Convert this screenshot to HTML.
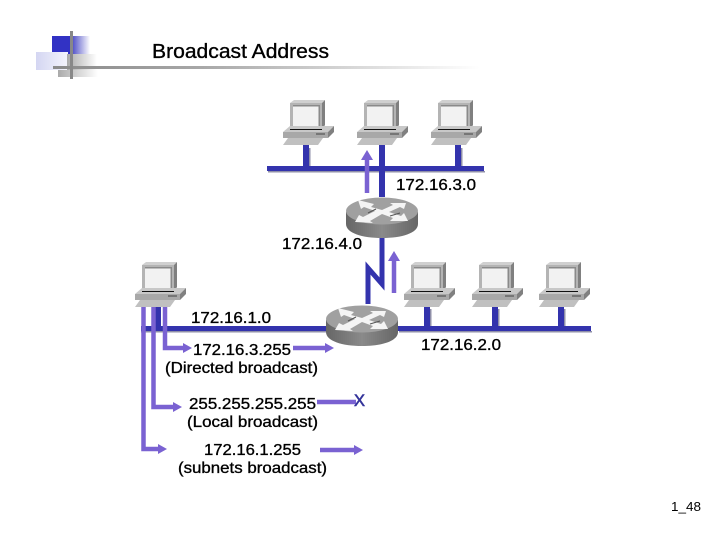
<!DOCTYPE html>
<html><head><meta charset="utf-8"><style>
html,body{margin:0;padding:0;background:#fff}
svg{display:block}
text{font-family:"Liberation Sans",sans-serif;fill:#000;stroke:#000;stroke-width:.35}
</style></head><body>
<svg width="720" height="540" viewBox="0 0 720 540" xmlns="http://www.w3.org/2000/svg">
<defs>
<linearGradient id="a" x1="0" x2="1" y1="0" y2="0"><stop offset="0" stop-color="#8a8a8a"/><stop offset=".35" stop-color="#a8a8a8"/><stop offset="1" stop-color="#fff"/></linearGradient>
<linearGradient id="b" x1="0" x2="1" y1="0" y2="0"><stop offset="0" stop-color="#3a3ac0"/><stop offset="1" stop-color="#fff"/></linearGradient>
<linearGradient id="c" x1="0" x2="1" y1="0" y2="0"><stop offset="0" stop-color="#d4d6f2"/><stop offset="1" stop-color="#f4f4fc"/></linearGradient>
<linearGradient id="d" x1="0" x2="1" y1="0" y2="0"><stop offset="0" stop-color="#aaa"/><stop offset="1" stop-color="#fff"/></linearGradient>
<linearGradient id="r" x1="0" x2="1" y1="0" y2="0"><stop offset="0" stop-color="#666"/><stop offset=".5" stop-color="#8a8a8a"/><stop offset="1" stop-color="#666"/></linearGradient>
<g id="pc">
<path d="M7 3L11 0H42L39 3Z" fill="#d0d0d0"/>
<path d="M39 3L42 0V25L39 30Z" fill="#808080"/>
<rect x="7" y="3" width="32" height="27" fill="#b4b4b4"/>
<rect x="10" y="5" width="27" height="22" fill="#f2f2f2"/>
<path d="M10 5H37V27H35.500V6.500H10Z" fill="#8a8a8a"/>
<path d="M0 32L7 26H51L45 32Z" fill="#c8c8c8"/>
<path d="M7 29.500H39" stroke="#111" stroke-width="1"/>
<rect x="0" y="32" width="45" height="6" fill="#a8a8a8"/>
<path d="M45 32L51 26V32L45 38Z" fill="#808080"/>
<path d="M33 34H42" stroke="#444" stroke-width="1"/>
<path d="M0 45L5 38H40L35 45Z" fill="#c0c0c0"/>
</g>
<g id="rt">
<path d="M0 15V27C0 36 16 41 36 41S72 36 72 27V15Z" fill="url(#r)"/>
<ellipse cx="36" cy="14" rx="36" ry="13.500" fill="#a0a0a0"/>
<path d="M12 3L28 7L25 10L36 13L47 8L44 6L60 6L58 12L54 10L43 15L55 19L58 16L62 24L44 24L47 21L36 17L24 24L27 26L9 25L13 18L17 20L29 14L18 10L15 12Z" fill="#f4f4f4"/>
<path d="M22 16L30 12M44 19L54 16" stroke="#555" stroke-width="1" fill="none"/>
</g>
</defs>

<!-- header decoration -->
<rect x="52" y="36" width="18" height="18" fill="#3232c4"/>
<rect x="70" y="36" width="20" height="18" fill="url(#b)"/>
<rect x="36" y="52" width="32" height="18" fill="url(#c)"/>
<rect x="67" y="54" width="30" height="18" fill="url(#d)"/>
<rect x="58" y="70" width="40" height="7" fill="url(#d)"/>
<rect x="53" y="66" width="427" height="3" fill="url(#a)"/>
<rect x="70" y="31" width="3" height="48" fill="#888"/>

<text x="152" y="58" font-size="20" textLength="177" lengthAdjust="spacingAndGlyphs">Broadcast Address</text>

<!-- blue network lines -->
<g fill="#8f8fa8">
<rect x="268" y="171" width="217" height="1.500"/>
<rect x="399" y="331" width="193" height="1.500"/>
<rect x="141" y="331" width="186" height="1.500"/>
<rect x="309" y="148" width="1.500" height="18"/>
<rect x="461" y="148" width="1.500" height="18"/>
<rect x="430" y="309" width="1.500" height="17"/>
<rect x="498" y="309" width="1.500" height="17"/>
<rect x="564" y="309" width="1.500" height="17"/>
</g>
<g fill="#3333ad">
<rect x="267" y="166" width="217" height="5"/>
<rect x="303" y="145" width="6" height="21"/>
<rect x="379" y="145" width="6" height="52"/>
<rect x="455" y="145" width="6" height="21"/>
<rect x="141" y="326" width="186" height="5"/>
<rect x="398" y="326" width="193" height="5"/>
<rect x="155" y="307" width="6" height="19"/>
<rect x="424" y="307" width="6" height="19"/>
<rect x="492" y="307" width="6" height="19"/>
<rect x="558" y="307" width="6" height="19"/>
</g>
<path d="M382 238V284L368 268V304" fill="none" stroke="#3333ad" stroke-width="5"/>

<!-- computers -->
<use href="#pc" x="283" y="100"/>
<use href="#pc" x="357" y="100"/>
<use href="#pc" x="431" y="100"/>
<use href="#pc" x="404" y="262"/>
<use href="#pc" x="472" y="262"/>
<use href="#pc" x="539" y="262"/>
<use href="#pc" x="135" y="262"/>

<!-- routers -->
<use href="#rt" x="346" y="197"/>
<use href="#rt" x="326" y="305"/>

<!-- purple arrows -->
<g fill="none" stroke="#7a62d2" stroke-width="4.500">
<path d="M143.500 307V449H160"/>
<path d="M153.500 307V407H176"/>
<path d="M165 307V348H186"/>
<path d="M293 348H327"/>
<path d="M317 402H356"/>
<path d="M320 450H356"/>
<path d="M367 193V158"/>
<path d="M394 293V258"/>
</g>
<g fill="#7a62d2">
<path d="M167 449L158 444V454Z"/>
<path d="M182 407L173 402V412Z"/>
<path d="M192 348L183 343V353Z"/>
<path d="M334 348L325 343V353Z"/>
<path d="M363 450L354 445V455Z"/>
<path d="M367 150L361 160H373Z"/>
<path d="M394 251L388 261H400Z"/>
</g>

<!-- labels -->
<g font-size="16">
<text x="396" y="190" textLength="80" lengthAdjust="spacingAndGlyphs">172.16.3.0</text>
<text x="282" y="249" textLength="80" lengthAdjust="spacingAndGlyphs">172.16.4.0</text>
<text x="191" y="323" textLength="80" lengthAdjust="spacingAndGlyphs">172.16.1.0</text>
<text x="421" y="350" textLength="80" lengthAdjust="spacingAndGlyphs">172.16.2.0</text>
<text x="193" y="355" textLength="98" lengthAdjust="spacingAndGlyphs">172.16.3.255</text>
<text x="165" y="373" textLength="153" lengthAdjust="spacingAndGlyphs">(Directed broadcast)</text>
<text x="189" y="409" textLength="127" lengthAdjust="spacingAndGlyphs">255.255.255.255</text>
<text x="187" y="427" textLength="131" lengthAdjust="spacingAndGlyphs">(Local broadcast)</text>
<text x="204" y="455" textLength="97" lengthAdjust="spacingAndGlyphs">172.16.1.255</text>
<text x="178" y="473" textLength="149" lengthAdjust="spacingAndGlyphs">(subnets broadcast)</text>
</g>
<text x="354" y="406" font-size="17" style="fill:#33339a;stroke:#33339a;stroke-width:.6" textLength="11" lengthAdjust="spacingAndGlyphs">X</text>
<text x="671" y="511" font-size="13" style="stroke-width:0" textLength="30" lengthAdjust="spacingAndGlyphs">1_48</text>
</svg>
</body></html>
